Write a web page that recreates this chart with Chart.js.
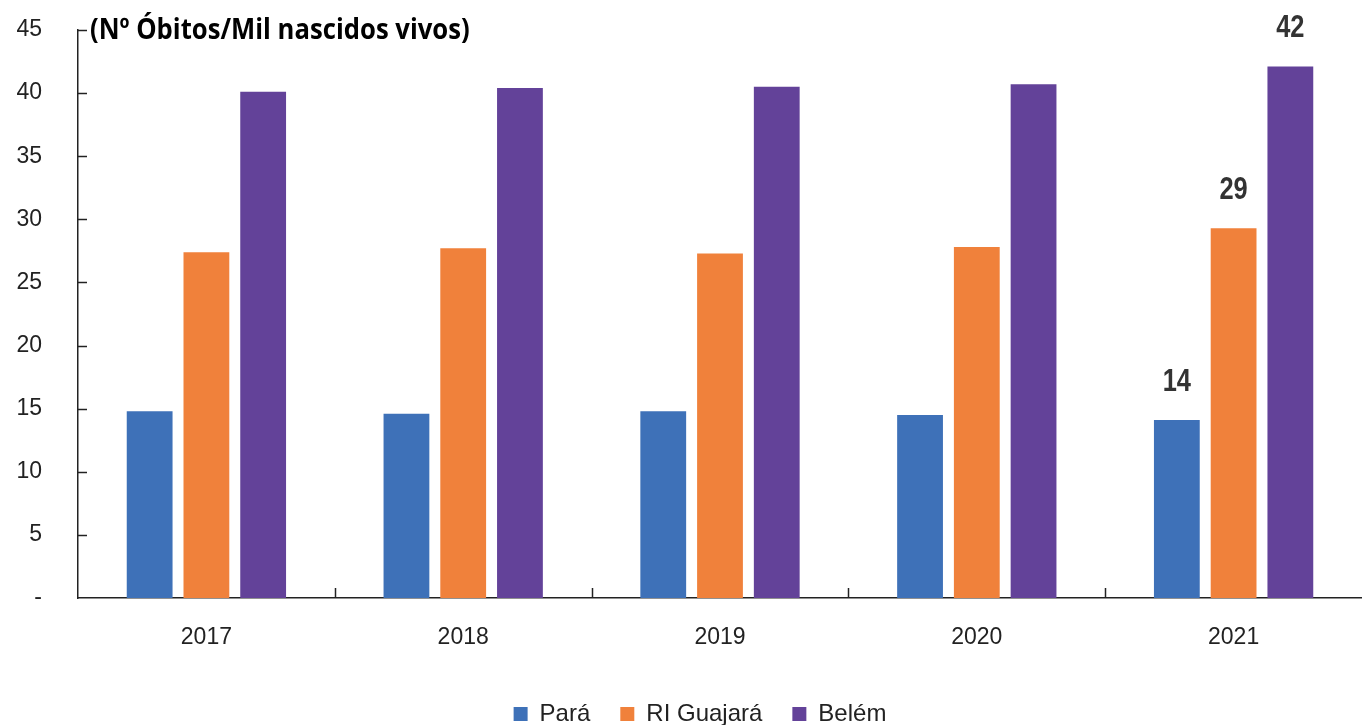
<!DOCTYPE html>
<html>
<head>
<meta charset="utf-8">
<script src="https://cdn.jsdelivr.net/npm/chart.js@4/dist/chart.umd.min.js"></script>
<style>
html,body{margin:0;padding:0;background:#fff;}
#wrap{width:1362px;height:725px;position:relative;}
</style>
</head>
<body>
<div id="wrap"><canvas id="c" width="1362" height="725"></canvas></div>
<script>
const categories = ['2017','2018','2019','2020','2021'];
const para = [14.8, 14.6, 14.8, 14.5, 14.1];
const riGuajara = [27.4, 27.7, 27.3, 27.8, 29.3];
const belem = [40.1, 40.4, 40.5, 40.7, 42.1];
const labelsLast = ['14', '29', '42'];
const yTicks = [0,5,10,15,20,25,30,35,40,45];
const titleText = '(Nº Óbitos/Mil nascidos vivos)';

const FONT = '"Liberation Sans", Arial, sans-serif';

const legendShift = {
  id: 'legendShift',
  afterLayout(chart) {
    if (chart.legend) chart.legend.left += 38;
  }
};

const innerTicks = {
  id: 'innerTicks',
  afterDatasetsDraw(chart) {
    const ctx = chart.ctx, x = chart.scales.x, y = chart.scales.y, a = chart.chartArea;
    ctx.save();
    ctx.strokeStyle = '#222';
    ctx.lineWidth = 1.5;
    yTicks.forEach(v => {
      if (v === 0) return;
      const py = Math.round(y.getPixelForValue(v)) + 0.5;
      ctx.beginPath(); ctx.moveTo(a.left, py); ctx.lineTo(a.left + 9, py); ctx.stroke();
    });
    for (let i = 0; i < categories.length - 1; i++) {
      const px = Math.round((x.getPixelForValue(i) + x.getPixelForValue(i + 1)) / 2) + 0.5;
      ctx.beginPath(); ctx.moveTo(px, a.bottom); ctx.lineTo(px, a.bottom - 10); ctx.stroke();
    }
    // value labels for last category
    ctx.fillStyle = '#333';
    ctx.font = 'bold 31px ' + FONT;
    ctx.textAlign = 'center';
    ctx.textBaseline = 'middle';
    chart.data.datasets.forEach((ds, di) => {
      const bar = chart.getDatasetMeta(di).data[categories.length - 1];
      ctx.save();
      ctx.translate(bar.x, bar.y - 38);
      ctx.scale(0.82, 1);
      ctx.fillText(labelsLast[di], 0, 0);
      ctx.restore();
    });
    // title
    ctx.fillStyle = '#000';
    ctx.font = 'bold 29px "Open Sans", sans-serif';
    ctx.textAlign = 'left';
    ctx.translate(a.left + 12, a.top + 1);
    ctx.scale(0.885, 1);
    ctx.fillText(titleText, 0, 0);
    ctx.restore();
  }
};

new Chart(document.getElementById('c'), {
  type: 'bar',
  data: {
    labels: categories,
    datasets: [
      { label: 'Pará', data: para, backgroundColor: '#3e71b8' },
      { label: 'RI Guajará', data: riGuajara, backgroundColor: '#f0813b' },
      { label: 'Belém', data: belem, backgroundColor: '#634299' }
    ]
  },
  options: {
    responsive: false,
    animation: false,
    layout: { padding: { top: 30, right: 0, left: 0, bottom: -11 } },
    datasets: { bar: { categoryPercentage: 0.663, barPercentage: 0.807 } },
    plugins: {
      legend: {
        position: 'bottom',
        labels: {
          boxWidth: 14, boxHeight: 14, color: '#222', padding: 30,
          font: { size: 24, family: FONT }
        }
      },
      tooltip: { enabled: false }
    },
    scales: {
      x: {
        grid: { display: false },
        border: { display: true, color: '#222', width: 1.5 },
        ticks: { color: '#222', font: { size: 23, family: FONT }, padding: 18 },
        afterFit(s) { s.height = 74; }
      },
      y: {
        min: 0, max: 45,
        afterBuildTicks(s) { s.ticks = yTicks.map(v => ({ value: v })); },
        grid: { display: false, tickLength: 34 },
        border: { display: true, color: '#222', width: 1.5 },
        ticks: {
          color: '#222', font: { size: 23, family: FONT }, padding: 2,
          callback: v => v === 0 ? '-' : String(v)
        },
        afterFit(s) { s.width = 78; }
      }
    }
  },
  plugins: [innerTicks, legendShift]
});
</script>
</body>
</html>
